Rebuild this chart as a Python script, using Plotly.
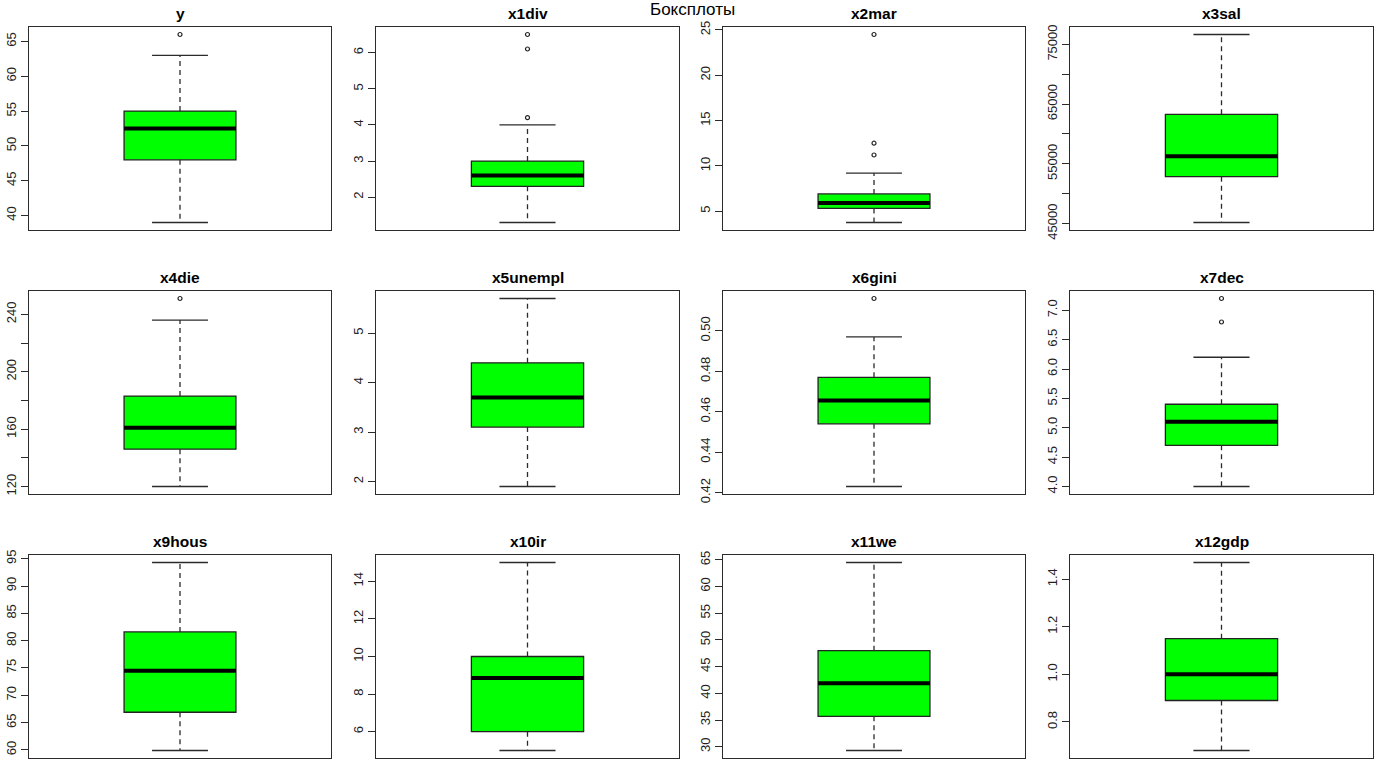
import plotly.graph_objects as go

W, H = 1376, 766

# ---------------- data ----------------
names = ["y", "x1div", "x2mar", "x3sal", "x4die", "x5unempl",
         "x6gini", "x7dec", "x9hous", "x10ir", "x11we", "x12gdp"]
q1 = [48, 2.3, 5.3, 52850, 146, 3.1, 0.454, 4.7, 66.9, 6.0, 35.7, 0.89]
median = [52.5, 2.6, 5.9, 56250, 161, 3.7, 0.4655, 5.1, 74.5, 8.85, 41.9, 1.0]
q3 = [55, 3.0, 6.9, 63300, 183, 4.4, 0.477, 5.4, 81.6, 10.0, 48.0, 1.15]
whisker_lo = [39, 1.3, 3.75, 45170, 120, 1.9, 0.423, 4.0, 59.9, 5.0, 29.3, 0.68]
whisker_hi = [63, 4.0, 9.2, 76670, 236, 5.7, 0.497, 6.2, 94.3, 15.0, 64.5, 1.47]
outliers = [[66], [4.2, 6.1, 6.5], [11.2, 12.5, 24.5], [], [251], [],
            [0.516], [6.8, 7.2], [], [], [], []]

tick_vals = [
    [40, 45, 50, 55, 60, 65],
    [2, 3, 4, 5, 6],
    [5, 10, 15, 20, 25],
    [45000, 50000, 55000, 60000, 65000, 70000, 75000],
    [120, 140, 160, 180, 200, 220, 240],
    [2, 3, 4, 5],
    [0.42, 0.44, 0.46, 0.48, 0.50],
    [4.0, 4.5, 5.0, 5.5, 6.0, 6.5, 7.0],
    [60, 65, 70, 75, 80, 85, 90, 95],
    [6, 8, 10, 12, 14],
    [30, 35, 40, 45, 50, 55, 60, 65],
    [0.8, 1.0, 1.2, 1.4],
]
tick_text = [
    ["40", "45", "50", "55", "60", "65"],
    ["2", "3", "4", "5", "6"],
    ["5", "10", "15", "20", "25"],
    ["45000", "", "55000", "", "65000", "", "75000"],
    ["120", "", "160", "", "200", "", "240"],
    ["2", "3", "4", "5"],
    ["0.42", "0.44", "0.46", "0.48", "0.50"],
    ["4.0", "4.5", "5.0", "5.5", "6.0", "6.5", "7.0"],
    ["60", "65", "70", "75", "80", "85", "90", "95"],
    ["6", "8", "10", "12", "14"],
    ["30", "35", "40", "45", "50", "55", "60", "65"],
    ["0.8", "1.0", "1.2", "1.4"],
]
main_title = "Боксплоты"

# ---------------- layout constants ----------------
col_px = [(29, 331), (376, 679), (723, 1025), (1070, 1373)]
row_px = [(27, 230), (291, 494), (555, 758)]
BOX_X = 1.0
BOX_W = 0.4
STAPLE_HALF = 0.1
FONT = "Liberation Sans, Arial, sans-serif"
LINE = "#2b2b2b"

fig = go.Figure()
annotations = []
layout_axes = {}

for i, name in enumerate(names):
    r, c = divmod(i, 4)
    k = "" if i == 0 else str(i + 1)
    xa, ya = "x" + k, "y" + k
    x0, x1 = col_px[c]
    t0, t1 = row_px[r]

    lo_all = min([whisker_lo[i]] + outliers[i])
    hi_all = max([whisker_hi[i]] + outliers[i])
    pad = 0.04 * (hi_all - lo_all)

    layout_axes["xaxis" + k] = dict(
        domain=[x0 / W, x1 / W], range=[0.46, 1.54], anchor=ya,
        showgrid=False, zeroline=False, showticklabels=False, ticks="",
        showline=True, mirror=True, linecolor=LINE, linewidth=1,
        fixedrange=True, automargin=False,
    )
    layout_axes["yaxis" + k] = dict(
        domain=[1 - t1 / H, 1 - t0 / H], range=[lo_all - pad, hi_all + pad],
        anchor=xa, showgrid=False, zeroline=False,
        showline=True, mirror=True, linecolor=LINE, linewidth=1,
        ticks="outside", ticklen=7, tickwidth=1, tickcolor=LINE,
        tickvals=tick_vals[i], ticktext=tick_text[i], tickangle=-90,
        tickfont=dict(family=FONT, size=13, color="#222"),
        fixedrange=True, automargin=False,
    )

    # box body
    fig.add_trace(go.Box(
        x=[BOX_X], q1=[q1[i]], median=[median[i]], q3=[q3[i]],
        lowerfence=[q1[i]], upperfence=[q3[i]], width=BOX_W,
        fillcolor="#00ff00", line=dict(color="#222", width=1.3),
        boxpoints=False, showlegend=False, xaxis=xa, yaxis=ya,
        hoverinfo="skip",
    ))
    # thick median
    fig.add_trace(go.Scatter(
        x=[BOX_X - BOX_W / 2, BOX_X + BOX_W / 2], y=[median[i], median[i]],
        mode="lines", line=dict(color="black", width=4),
        showlegend=False, xaxis=xa, yaxis=ya, hoverinfo="skip",
    ))
    # dashed whiskers
    for a, b in ((q3[i], whisker_hi[i]), (q1[i], whisker_lo[i])):
        fig.add_trace(go.Scatter(
            x=[BOX_X, BOX_X], y=[a, b], mode="lines",
            line=dict(color=LINE, width=1.3, dash="5px,4px"),
            showlegend=False, xaxis=xa, yaxis=ya, hoverinfo="skip",
        ))
    # staples
    for v in (whisker_hi[i], whisker_lo[i]):
        fig.add_trace(go.Scatter(
            x=[BOX_X - STAPLE_HALF, BOX_X + STAPLE_HALF], y=[v, v], mode="lines",
            line=dict(color=LINE, width=1.3),
            showlegend=False, xaxis=xa, yaxis=ya, hoverinfo="skip",
        ))
    # outliers
    if outliers[i]:
        fig.add_trace(go.Scatter(
            x=[BOX_X] * len(outliers[i]), y=outliers[i], mode="markers",
            marker=dict(symbol="circle-open", size=4, color="#222",
                        line=dict(width=1.2)),
            showlegend=False, xaxis=xa, yaxis=ya, hoverinfo="skip",
        ))

    annotations.append(dict(
        text="<b>%s</b>" % name, xref="paper", yref="paper",
        x=(x0 + x1) / 2 / W, y=1 - (t0 - 14) / H,
        xanchor="center", yanchor="middle", showarrow=False,
        font=dict(family=FONT, size=15.5, color="black"),
    ))

annotations.append(dict(
    text=main_title, xref="paper", yref="paper",
    x=693 / W, y=1 - 9 / H, xanchor="center", yanchor="middle",
    showarrow=False, font=dict(family=FONT, size=17, color="black"),
))

fig.update_layout(
    width=W, height=H,
    margin=dict(l=0, r=0, t=0, b=0, autoexpand=False),
    paper_bgcolor="white", plot_bgcolor="white",
    annotations=annotations,
    showlegend=False,
    **layout_axes,
)

fig.write_html(
    "out.html",
    config={"displayModeBar": False},
    post_script="document.body.style.margin='0';document.body.style.overflow='hidden';",
)
